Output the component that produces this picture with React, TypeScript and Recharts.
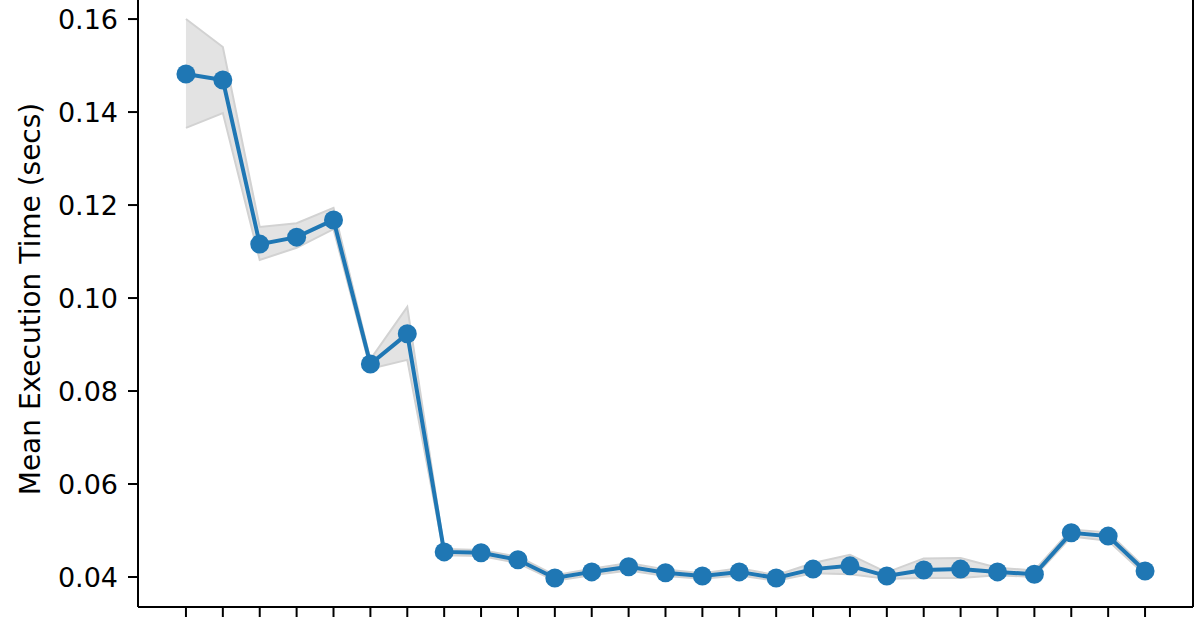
import {
  ComposedChart,
  Line,
  Area,
  XAxis,
  YAxis,
  ReferenceLine,
} from "recharts";

const steps = [
  0, 1, 2, 3, 4, 5, 6, 7, 8, 9, 10, 11, 12, 13, 14, 15, 16, 17, 18, 19, 20,
  21, 22, 23, 24, 25, 26,
];

const meanTime = [
  0.1482, 0.1469, 0.1116, 0.1131, 0.1168, 0.0858, 0.0923, 0.0454, 0.0452,
  0.0437, 0.0398, 0.0411, 0.0422, 0.0409, 0.0402, 0.0411, 0.0398, 0.0417,
  0.0424, 0.0402, 0.0415, 0.0417, 0.0411, 0.0406, 0.0495, 0.0488, 0.0413,
];

const lowTime = [
  0.1366, 0.1398, 0.1082, 0.1108, 0.1148, 0.0848, 0.0867, 0.0447, 0.0445,
  0.043, 0.0392, 0.0404, 0.0414, 0.0402, 0.0396, 0.0403, 0.0392, 0.0408,
  0.0406, 0.0396, 0.0398, 0.0398, 0.0404, 0.04, 0.0487, 0.0478, 0.0405,
];

const highTime = [
  0.16, 0.154, 0.1153, 0.1161, 0.1194, 0.0868, 0.0981, 0.046, 0.0458, 0.0444,
  0.0404, 0.0418, 0.043, 0.0416, 0.0408, 0.0419, 0.0404, 0.043, 0.0448,
  0.041, 0.044, 0.0441, 0.042, 0.0414, 0.0502, 0.0496, 0.042,
];

const yTicks = [0.04, 0.06, 0.08, 0.1, 0.12, 0.14, 0.16];

const data = steps.map((s, i) => ({
  step: s,
  mean: meanTime[i],
  band: [lowTime[i], highTime[i]],
}));

const FONT = "'DejaVu Sans', sans-serif";
const BLUE = "#1f77b4";

export default function App() {
  return (
    <div
      style={{
        position: "absolute",
        top: 0,
        left: 0,
        width: 1200,
        height: 630,
        background: "#fff",
      }}
    >
      <ComposedChart
        width={1200}
        height={630}
        data={data}
        margin={{ top: 0, right: 7, left: 0, bottom: 0 }}
      >
        <XAxis
          dataKey="step"
          type="number"
          domain={[-1.3, 27.3]}
          ticks={steps}
          tickFormatter={() => ""}
          height={23}
          tickSize={10}
          stroke="#000"
          axisLine={{ stroke: "#000", strokeWidth: 2 }}
          tickLine={{ stroke: "#000", strokeWidth: 2 }}
          allowDataOverflow
        />
        <YAxis
          type="number"
          domain={[0.03355, 0.1641]}
          ticks={yTicks}
          width={138}
          tickSize={10}
          tickMargin={10}
          tickFormatter={(v) => Number(v).toFixed(2)}
          tick={{ fill: "#000", fontSize: 27, fontFamily: FONT }}
          axisLine={{ stroke: "#000", strokeWidth: 2 }}
          tickLine={{ stroke: "#000", strokeWidth: 2 }}
          allowDataOverflow
          label={{
            content: () => (
              <text
                x={30}
                y={299}
                transform="rotate(-90 30 299)"
                textAnchor="middle"
                dominantBaseline="central"
                fontSize={28}
                fontFamily={FONT}
                fill="#000"
              >
                Mean Execution Time (secs)
              </text>
            ),
          }}
        />
        <ReferenceLine x={27.3} stroke="#000" strokeWidth={2} />
        <Area
          type="linear"
          dataKey="band"
          fill="#e3e3e3"
          fillOpacity={1}
          stroke="#d2d2d2"
          strokeWidth={2}
          isAnimationActive={false}
          activeDot={false}
        />
        <Line
          type="linear"
          dataKey="mean"
          stroke={BLUE}
          strokeWidth={4}
          dot={{ r: 9.5, fill: BLUE, stroke: BLUE, strokeWidth: 0 }}
          activeDot={false}
          isAnimationActive={false}
        />
      </ComposedChart>
    </div>
  );
}
